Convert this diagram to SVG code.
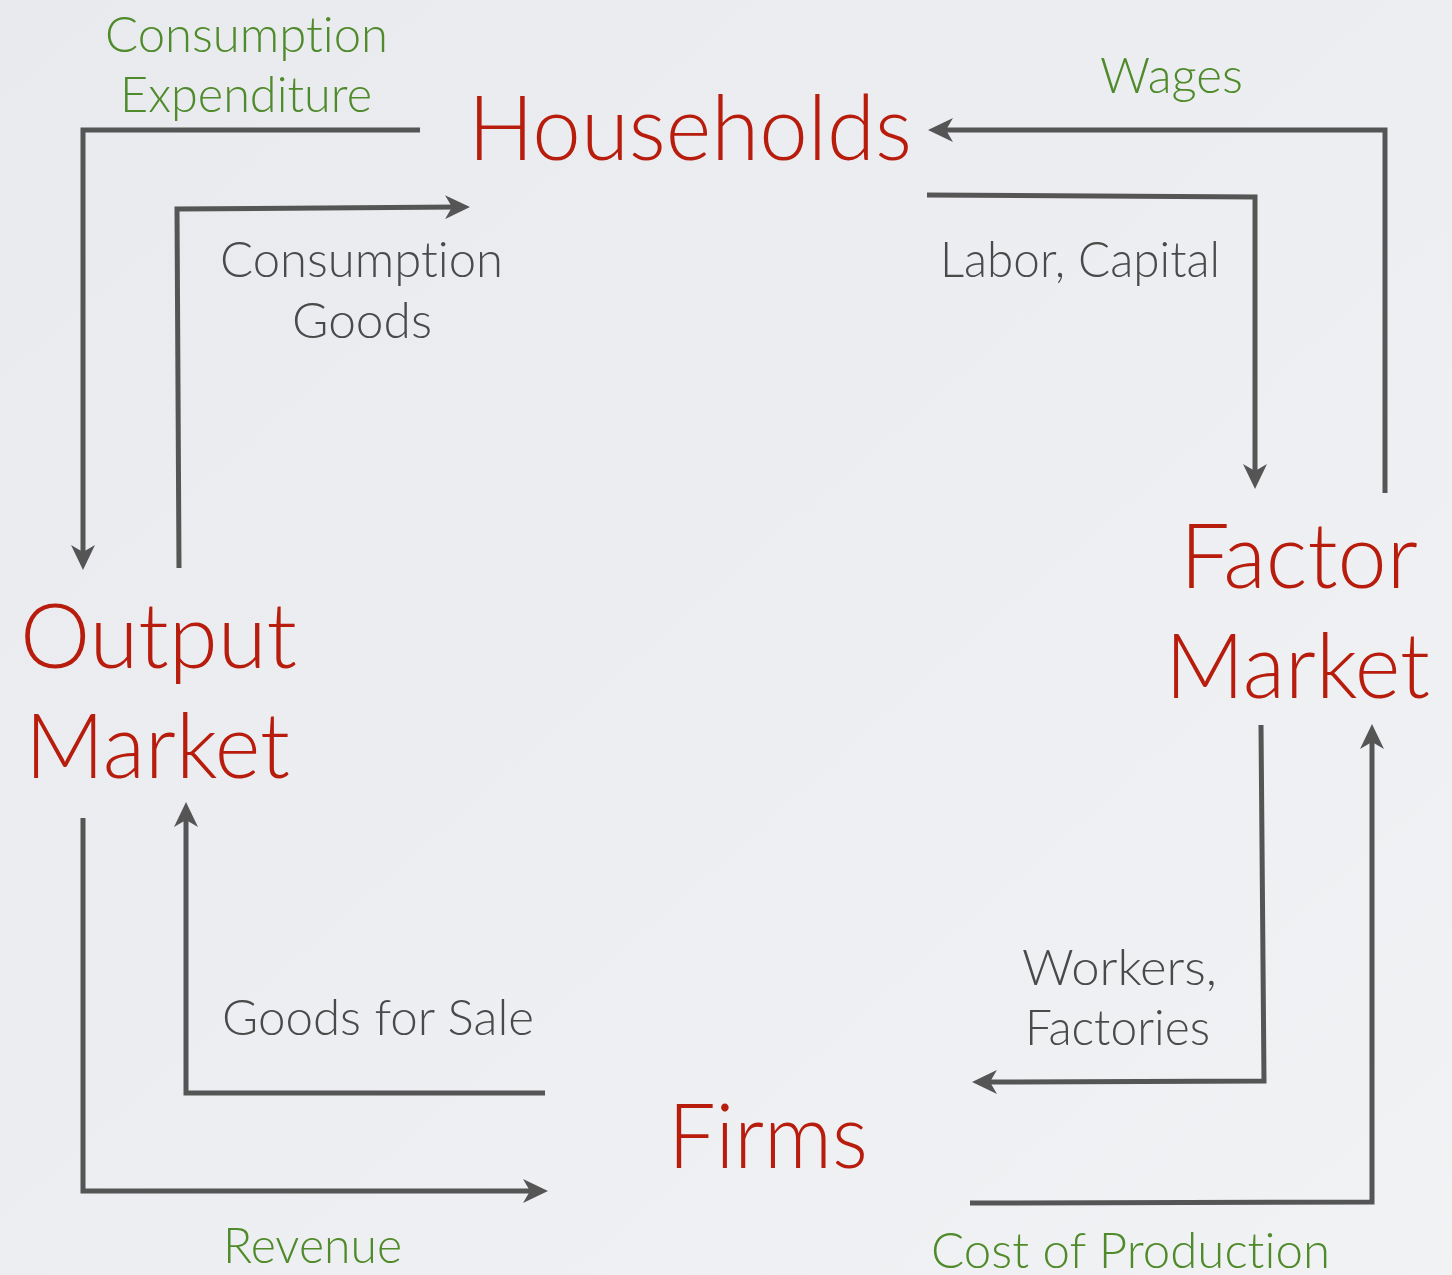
<svg xmlns="http://www.w3.org/2000/svg" width="1452" height="1275" viewBox="0 0 1452 1275">
  <defs>
    <linearGradient id="bg" x1="0" y1="0" x2="1" y2="1">
      <stop offset="0" stop-color="#E8EAEE"/>
      <stop offset="0.5" stop-color="#EDEEF1"/>
      <stop offset="1" stop-color="#F1F2F4"/>
    </linearGradient>
    <marker id="head" markerUnits="userSpaceOnUse" markerWidth="26" markerHeight="24" refX="13" refY="12" orient="auto" viewBox="0 0 26 24">
      <path d="M0,0 L25,12 L0,24 L7,12 z" fill="#555555"/>
    </marker>
    <style>
      .flow { fill: none; stroke: #555555; stroke-width: 5; stroke-linejoin: miter; }
      .arrow { marker-end: url(#head); }
      text { font-family: Lato, "Open Sans", "Liberation Sans", sans-serif; font-weight: 300; font-variant-ligatures: none; }
      .node { fill: #B71C0C; font-size: 90px; }
      .money { fill: #4F8A2B; font-size: 50px; }
      .goods { fill: #4A4A4A; font-size: 50px; }
    </style>
  </defs>

  <rect width="1452" height="1275" fill="url(#bg)"/>

  <!-- flows between sectors -->
  <g id="connectors">
    <!-- Consumption Expenditure: Households -> Output Market -->
    <path class="flow arrow" d="M420,130 L83,130 L83,558"/>
    <!-- Consumption Goods: Output Market -> Households -->
    <path class="flow arrow" d="M179,568 L177,209 L458,207"/>
    <!-- Wages: Factor Market -> Households -->
    <path class="flow arrow" d="M1385,493 L1385,130 L940,130"/>
    <!-- Labor, Capital: Households -> Factor Market -->
    <path class="flow arrow" d="M927,195 L1255,197 L1255,477"/>
    <!-- Workers, Factories: Factor Market -> Firms -->
    <path class="flow arrow" d="M1261,725 L1264,1081 L984,1082"/>
    <!-- Cost of Production: Firms -> Factor Market -->
    <path class="flow arrow" d="M970,1203 L1372,1202 L1372,736"/>
    <!-- Revenue: Output Market -> Firms -->
    <path class="flow arrow" d="M83,818 L83,1191 L536,1191"/>
    <!-- Goods for Sale: Firms -> Output Market -->
    <path class="flow arrow" d="M545,1093 L186,1093 L186,814"/>
  </g>

  <g id="households">
    <text class="node" x="468" y="160" textLength="444" lengthAdjust="spacingAndGlyphs">Households</text>
  </g>
  <g id="output-market">
    <text class="node" x="20" y="668" textLength="277" lengthAdjust="spacingAndGlyphs">Output</text>
    <text class="node" x="25" y="778" textLength="265" lengthAdjust="spacingAndGlyphs">Market</text>
  </g>
  <g id="factor-market">
    <text class="node" x="1180" y="588" textLength="238" lengthAdjust="spacingAndGlyphs">Factor</text>
    <text class="node" x="1165" y="698" textLength="265" lengthAdjust="spacingAndGlyphs">Market</text>
  </g>
  <g id="firms">
    <text class="node" x="668" y="1168" textLength="200" lengthAdjust="spacingAndGlyphs">Firms</text>
  </g>

  <!-- flow labels -->
  <g id="labels">
    <text class="money" x="105" y="52" textLength="283" lengthAdjust="spacingAndGlyphs">Consumption</text>
    <text class="money" x="120" y="112" textLength="252" lengthAdjust="spacingAndGlyphs">Expenditure</text>
    <text class="money" x="1100" y="93" textLength="143" lengthAdjust="spacingAndGlyphs">Wages</text>
    <text class="goods" x="940" y="277" textLength="280" lengthAdjust="spacingAndGlyphs">Labor, Capital</text>
    <text class="goods" x="220" y="277" textLength="283" lengthAdjust="spacingAndGlyphs">Consumption</text>
    <text class="goods" x="292" y="338" textLength="140" lengthAdjust="spacingAndGlyphs">Goods</text>
    <text class="goods" x="222" y="1035" textLength="312" lengthAdjust="spacingAndGlyphs">Goods for Sale</text>
    <text class="goods" x="1022" y="985" textLength="195" lengthAdjust="spacingAndGlyphs">Workers,</text>
    <text class="goods" x="1025" y="1045" textLength="185" lengthAdjust="spacingAndGlyphs">Factories</text>
    <text class="money" x="223" y="1263" textLength="179" lengthAdjust="spacingAndGlyphs">Revenue</text>
    <text class="money" x="931" y="1268" textLength="399" lengthAdjust="spacingAndGlyphs">Cost of Production</text>
  </g>
</svg>
